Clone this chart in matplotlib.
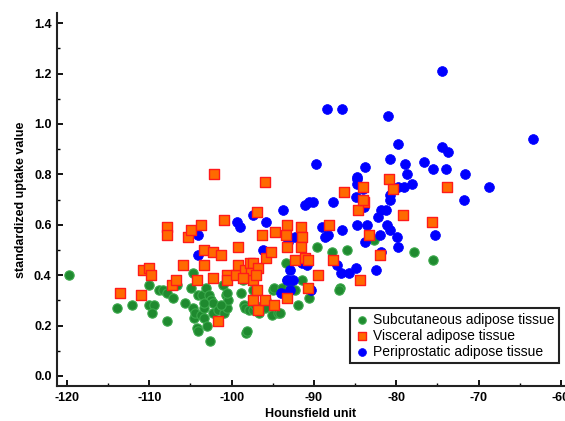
import matplotlib
matplotlib.use('Agg')
import matplotlib.pyplot as plt
from matplotlib.ticker import MultipleLocator

plt.rcParams['font.family'] = ['Liberation Sans', 'DejaVu Sans']
plt.rcParams['axes.unicode_minus'] = False

# Subcutaneous adipose tissue (green)
sub_hu = [-119.8, -113.9, -112.1, -110.0, -110.0, -109.4, -109.7, -108.8, -108.3, -107.8,
          -107.8, -107.1, -106.6, -105.7, -104.9, -104.7, -104.7, -104.6, -104.4, -104.2,
          -104.1, -104.1, -103.6, -103.7, -103.4, -103.1, -103.4, -103.0, -102.7, -102.5,
          -102.6, -102.3, -102.3, -101.6, -101.0, -100.9, -100.7, -100.6, -100.4, -100.5,
          -98.9, -98.6, -98.5, -98.4, -98.3, -98.1, -97.9, -97.4, -97.4, -95.9,
          -95.8, -95.1, -95.0, -94.9, -94.4, -93.9, -93.4, -93.3, -92.9, -92.3,
          -91.9, -89.6, -87.8, -86.0, -82.7, -77.8, -75.5, -91.4, -90.6, -86.8,
          -86.9, -94.1, -97.2, -96.7, -101.3, -103.3]
sub_suv = [0.40, 0.27, 0.28, 0.36, 0.28, 0.28, 0.25, 0.34, 0.34, 0.33,
           0.22, 0.31, 0.36, 0.29, 0.35, 0.41, 0.27, 0.23, 0.25, 0.19,
           0.18, 0.32, 0.32, 0.24, 0.27, 0.35, 0.23, 0.20, 0.32, 0.30,
           0.14, 0.29, 0.25, 0.26, 0.36, 0.25, 0.32, 0.27, 0.30, 0.33,
           0.33, 0.38, 0.28, 0.27, 0.17, 0.18, 0.26, 0.34, 0.26, 0.27,
           0.30, 0.24, 0.34, 0.35, 0.25, 0.35, 0.45, 0.38, 0.35, 0.34,
           0.28, 0.51, 0.49, 0.50, 0.54, 0.49, 0.46, 0.38, 0.31, 0.35,
           0.34, 0.25, 0.28, 0.25, 0.28, 0.29]

# Visceral adipose tissue (red squares)
vis_hu = [-113.6, -111.0, -110.8, -110.0, -109.8, -107.8, -107.8, -107.2, -106.8, -105.9,
          -105.3, -104.9, -104.2, -103.7, -103.4, -103.4, -102.2, -102.3, -101.3, -101.7,
          -100.9, -100.6, -100.6, -99.5, -99.2, -99.2, -98.4, -97.8, -97.4, -97.6,
          -97.4, -96.9, -96.8, -97.0, -97.4, -96.9, -96.8, -96.3, -95.8, -95.2,
          -95.9, -94.7, -94.8, -93.3, -93.4, -93.3, -92.3, -93.3, -102.1, -96.0,
          -91.6, -91.4, -91.6, -91.1, -90.7, -89.5, -90.7, -98.6, -83.9, -84.6,
          -79.2, -75.6, -88.2, -83.3, -82.0, -87.7, -84.4, -86.3, -84.0, -80.9,
          -80.4, -73.8, -84.0]
vis_suv = [0.33, 0.32, 0.42, 0.43, 0.40, 0.59, 0.56, 0.36, 0.38, 0.44,
           0.55, 0.58, 0.38, 0.60, 0.50, 0.44, 0.49, 0.39, 0.48, 0.22,
           0.62, 0.40, 0.38, 0.40, 0.51, 0.44, 0.42, 0.45, 0.45, 0.41,
           0.38, 0.65, 0.43, 0.40, 0.30, 0.34, 0.26, 0.56, 0.47, 0.49,
           0.30, 0.57, 0.28, 0.60, 0.56, 0.51, 0.46, 0.31, 0.80, 0.77,
           0.59, 0.55, 0.51, 0.47, 0.46, 0.40, 0.35, 0.39, 0.69, 0.66,
           0.64, 0.61, 0.60, 0.56, 0.48, 0.46, 0.38, 0.73, 0.75, 0.78,
           0.74, 0.75, 0.70]

# Periprostatic adipose tissue (blue)
per_hu = [-74.4, -88.4, -86.6, -81.0, -63.4, -79.8, -74.4, -73.7, -89.7, -80.8,
          -78.9, -76.6, -83.8, -75.5, -74.0, -71.6, -84.8, -84.8, -84.8, -78.7,
          -84.0, -79.8, -79.1, -78.1, -68.7, -84.9, -83.9, -80.8, -80.8, -71.8,
          -91.1, -90.6, -90.1, -87.7, -93.8, -81.8, -81.2, -82.2, -81.1, -89.0,
          -84.8, -83.6, -86.6, -80.8, -88.7, -88.3, -82.0, -79.9, -75.3, -83.8,
          -79.8, -81.8, -87.2, -86.7, -85.7, -84.9, -82.5, -92.3, -93.1, -91.4,
          -90.8, -92.9, -93.3, -92.5, -94.0, -92.9, -90.4, -95.8, -97.4, -99.3,
          -99.0, -104.1, -96.2, -104.1]
per_suv = [1.21, 1.06, 1.06, 1.03, 0.94, 0.92, 0.91, 0.89, 0.84, 0.86,
           0.84, 0.85, 0.83, 0.82, 0.82, 0.80, 0.79, 0.78, 0.76, 0.80,
           0.74, 0.75, 0.75, 0.76, 0.75, 0.71, 0.67, 0.72, 0.70, 0.70,
           0.68, 0.69, 0.69, 0.69, 0.66, 0.66, 0.66, 0.63, 0.60, 0.59,
           0.60, 0.60, 0.58, 0.58, 0.55, 0.56, 0.56, 0.55, 0.56, 0.53,
           0.51, 0.49, 0.44, 0.41, 0.41, 0.43, 0.42, 0.55, 0.53, 0.45,
           0.44, 0.42, 0.38, 0.38, 0.33, 0.34, 0.34, 0.61, 0.64, 0.61,
           0.59, 0.56, 0.50, 0.48]

fig = plt.figure(figsize=(5.65, 4.21), dpi=100)
ax = fig.add_axes([0.101, 0.083, 0.899, 0.886])

g = ax.scatter(sub_hu, sub_suv, s=45, c='#1f8a2f', edgecolors='#3aa84a', linewidths=0.8,
               zorder=2, label='Subcutaneous adipose tissue')
b = ax.scatter(per_hu, per_suv, s=50, c='#0000ff', edgecolors='#0000ff', linewidths=0.5,
               zorder=3, label='Periprostatic adipose tissue')
r = ax.scatter(vis_hu, vis_suv, s=42, marker='s', c='#ff6a00', edgecolors='#ff1a1a',
               linewidths=1.0, zorder=4, label='Visceral adipose tissue')

ax.set_xlim(-121.2, -59.5)
ax.set_ylim(-0.04, 1.44)
ax.xaxis.set_major_locator(MultipleLocator(10))
ax.xaxis.set_minor_locator(MultipleLocator(5))
ax.yaxis.set_major_locator(MultipleLocator(0.2))
ax.yaxis.set_minor_locator(MultipleLocator(0.1))
ax.yaxis.set_major_formatter(plt.FormatStrFormatter('%.1f'))

for side in ['top', 'right']:
    ax.spines[side].set_visible(False)
for side in ['left', 'bottom']:
    ax.spines[side].set_linewidth(1.5)
    ax.spines[side].set_color('#222222')

ax.tick_params(which='major', direction='in', length=4, width=1.3, labelsize=9, pad=4)
ax.tick_params(which='minor', direction='in', length=2.5, width=1.0)
for lab in ax.get_xticklabels() + ax.get_yticklabels():
    lab.set_fontweight('bold')

ax.set_xlabel('Hounsfield unit', fontsize=9, fontweight='bold', labelpad=3)
ax.set_ylabel('standardized uptake value', fontsize=9, fontweight='bold', labelpad=5)

leg = ax.legend(handles=[g, r, b], loc='lower right', bbox_to_anchor=(0.988, 0.062),
                borderaxespad=0, fancybox=False, edgecolor='#222222', framealpha=1,
                fontsize=10, markerscale=0.8, handletextpad=0.2, labelspacing=0.15,
                borderpad=0.3, handlelength=1.2)
leg.get_frame().set_linewidth(1.5)

fig.savefig('out.png', dpi=100)
